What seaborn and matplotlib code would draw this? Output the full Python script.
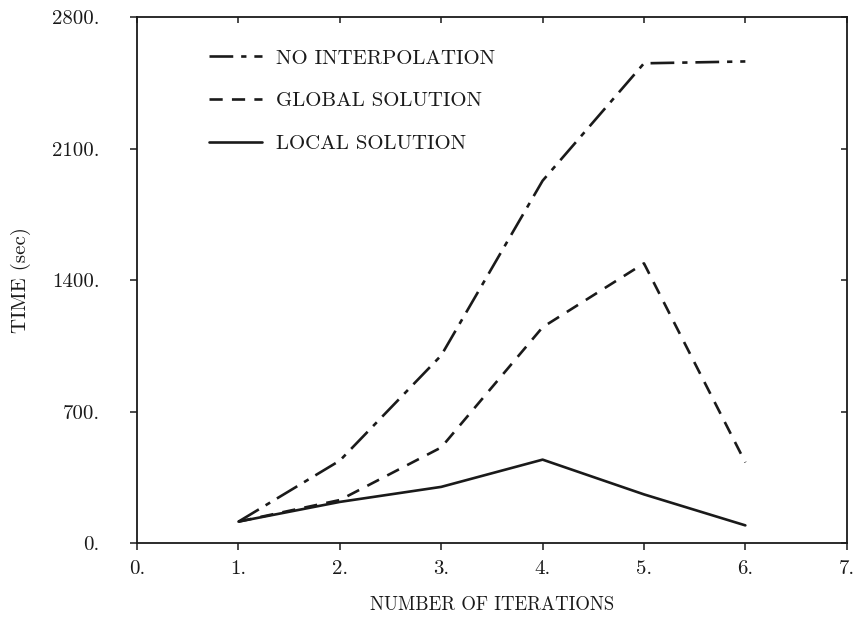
import matplotlib
matplotlib.use("Agg")
import matplotlib.pyplot as plt
import seaborn as sns
import pandas as pd

# Run times per iteration count for the three interpolation strategies
iterations = [1, 2, 3, 4, 5, 6]
no_interpolation = [115, 440, 1000, 1930, 2555, 2565]
global_solution = [115, 230, 510, 1150, 1490, 430]
local_solution = [115, 220, 300, 445, 260, 95]

series_names = ["NO INTERPOLATION", "GLOBAL SOLUTION", "LOCAL SOLUTION"]
x_ticks = [0, 1, 2, 3, 4, 5, 6, 7]
x_tick_labels = ["0.", "1.", "2.", "3.", "4.", "5.", "6.", "7."]
y_ticks = [0, 700, 1400, 2100, 2800]
y_tick_labels = ["0.", "700.", "1400.", "2100.", "2800."]

df = pd.DataFrame({
    "iterations": iterations * 3,
    "time": no_interpolation + global_solution + local_solution,
    "method": [series_names[0]] * 6 + [series_names[1]] * 6 + [series_names[2]] * 6,
})

sns.set_style("ticks")
plt.rcParams["font.family"] = ["cmr10", "DejaVu Serif"]
plt.rcParams["axes.formatter.use_mathtext"] = True

ink = "#1a1a1a"
fig = plt.figure(figsize=(8.57, 6.18), dpi=100)
ax = fig.add_axes([0.160, 0.121, 0.828, 0.851])

dash_styles = {
    series_names[0]: (0, (9, 3, 2, 3)),
    series_names[1]: (0, (5, 3.5)),
    series_names[2]: "-",
}
for name in series_names:
    sub = df[df["method"] == name]
    sns.lineplot(data=sub, x="iterations", y="time", ax=ax, color=ink,
                 linewidth=1.9, label=name, linestyle=dash_styles[name],
                 legend=False)

ax.set_xlim(0, 7)
ax.set_ylim(0, 2800)
ax.set_xticks(x_ticks)
ax.set_xticklabels(x_tick_labels)
ax.set_yticks(y_ticks)
ax.set_yticklabels(y_tick_labels)

for side in ["left", "right", "top", "bottom"]:
    ax.spines[side].set_visible(True)
    ax.spines[side].set_linewidth(1.3)
    ax.spines[side].set_color(ink)

ax.tick_params(axis="x", direction="out", length=5, width=1.1, color=ink,
               labelsize=15, pad=7, labelcolor=ink)
ax.tick_params(axis="y", direction="out", length=5, width=1.1, color=ink,
               labelsize=15, pad=22, labelcolor=ink)

# Inward marks on the top and right frame edges
top = ax.secondary_xaxis("top")
top.set_xticks(x_ticks)
top.tick_params(direction="in", length=4, width=1.1, color=ink, labeltop=False)
top.spines["top"].set_visible(False)
right = ax.secondary_yaxis("right")
right.set_yticks(y_ticks)
right.tick_params(direction="in", length=4, width=1.1, color=ink, labelright=False)
right.spines["right"].set_visible(False)

ax.set_xlabel("NUMBER OF ITERATIONS", fontsize=13.5, color=ink, labelpad=13)
ax.set_ylabel("TIME (sec)", fontsize=15, color=ink, labelpad=15)

leg = ax.legend(loc="upper left", bbox_to_anchor=(0.075, 0.975), frameon=False,
                fontsize=15, handlelength=2.55, handletextpad=0.65,
                labelspacing=1.15)
for text in leg.get_texts():
    text.set_color(ink)

fig.savefig("out.png", dpi=100, facecolor="white")
